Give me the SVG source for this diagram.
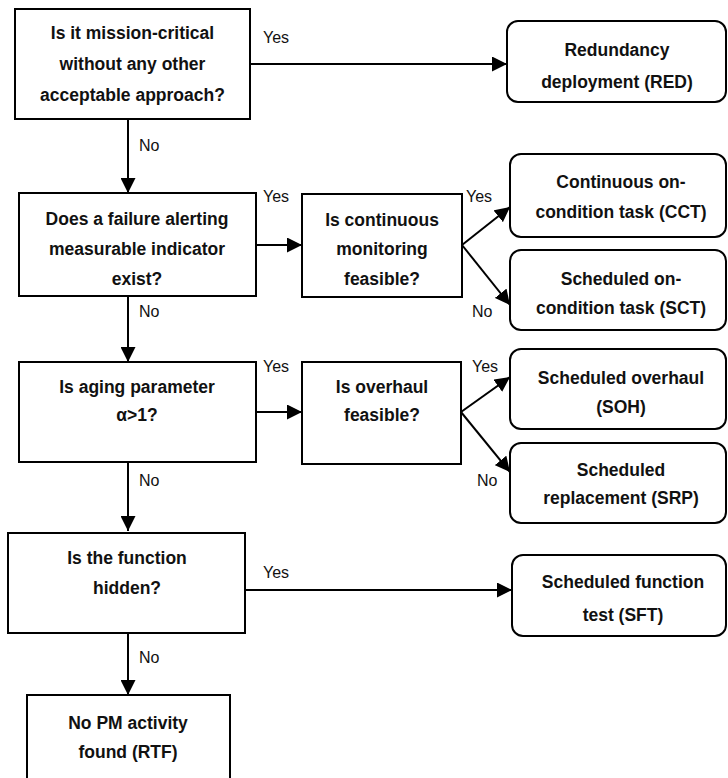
<svg xmlns="http://www.w3.org/2000/svg" width="728" height="778" viewBox="0 0 728 778">
<defs>
<style>
.box{fill:#fff;stroke:#000;stroke-width:2}
.t{font-family:"Liberation Sans",Arial,sans-serif;font-weight:bold;font-size:17.5px;text-anchor:middle;fill:#111}
.l{font-family:"Liberation Sans",Arial,sans-serif;font-size:16px;fill:#111}
.c{stroke:#000;stroke-width:2;fill:none;marker-end:url(#ah)}
</style>
<marker id="ah" markerUnits="userSpaceOnUse" markerWidth="15" markerHeight="15" refX="15" refY="7.5" orient="auto">
<path d="M0,0 L15,7.5 L0,15 z" fill="#000"/>
</marker>
</defs>
<rect width="728" height="778" fill="#fff"/>
<g id="connectors">
<line class="c" x1="128" y1="119" x2="128" y2="193"/>
<line class="c" x1="250" y1="64" x2="507" y2="64"/>
<line class="c" x1="256" y1="245" x2="302" y2="245"/>
<line class="c" x1="462" y1="245" x2="510" y2="207"/>
<line class="c" x1="462" y1="245" x2="510" y2="305"/>
<line class="c" x1="128" y1="296" x2="128" y2="362"/>
<line class="c" x1="256" y1="412" x2="302" y2="412"/>
<line class="c" x1="461" y1="412" x2="510" y2="377"/>
<line class="c" x1="461" y1="412" x2="510" y2="472"/>
<line class="c" x1="128" y1="462" x2="128" y2="531"/>
<line class="c" x1="245" y1="590" x2="512" y2="590"/>
<line class="c" x1="128" y1="633" x2="128" y2="695"/>
<text class="l" x="263" y="43">Yes</text>
<text class="l" x="139" y="151">No</text>
<text class="l" x="263" y="202">Yes</text>
<text class="l" x="466" y="202">Yes</text>
<text class="l" x="472" y="317">No</text>
<text class="l" x="139" y="317">No</text>
<text class="l" x="263" y="372">Yes</text>
<text class="l" x="472" y="372">Yes</text>
<text class="l" x="477" y="486">No</text>
<text class="l" x="139" y="486">No</text>
<text class="l" x="263" y="578">Yes</text>
<text class="l" x="139" y="663">No</text>
</g>
<g id="q1">
<rect class="box" x="15" y="9" width="235" height="110"/>
<text class="t" x="132.5" y="39">Is it mission-critical</text>
<text class="t" x="132.5" y="70">without any other</text>
<text class="t" x="132.5" y="101">acceptable approach?</text>
</g>
<g id="red">
<rect class="box" x="507" y="21" width="219" height="81" rx="11"/>
<text class="t" x="617" y="56">Redundancy</text>
<text class="t" x="617" y="88">deployment (RED)</text>
</g>
<g id="q2">
<rect class="box" x="19" y="193" width="237" height="103"/>
<text class="t" x="137" y="225">Does a failure alerting</text>
<text class="t" x="137" y="255">measurable indicator</text>
<text class="t" x="137" y="285">exist?</text>
</g>
<g id="q3">
<rect class="box" x="302" y="194" width="160" height="103"/>
<text class="t" x="382" y="226">Is continuous</text>
<text class="t" x="382" y="255">monitoring</text>
<text class="t" x="382" y="285">feasible?</text>
</g>
<g id="cct">
<rect class="box" x="510" y="154" width="216" height="83" rx="11"/>
<text class="t" x="621" y="188">Continuous on-</text>
<text class="t" x="621" y="218">condition task (CCT)</text>
</g>
<g id="sct">
<rect class="box" x="510" y="250" width="216" height="80" rx="11"/>
<text class="t" x="621" y="285">Scheduled on-</text>
<text class="t" x="621" y="314">condition task (SCT)</text>
</g>
<g id="q4">
<rect class="box" x="19" y="362" width="237" height="100"/>
<text class="t" x="137" y="393">Is aging parameter</text>
<text class="t" x="137" y="421">α&gt;1?</text>
</g>
<g id="q5">
<rect class="box" x="302" y="362" width="159" height="102"/>
<text class="t" x="382" y="393">Is overhaul</text>
<text class="t" x="382" y="421">feasible?</text>
</g>
<g id="soh">
<rect class="box" x="510" y="349" width="216" height="80" rx="11"/>
<text class="t" x="621" y="384">Scheduled overhaul</text>
<text class="t" x="621" y="413">(SOH)</text>
</g>
<g id="srp">
<rect class="box" x="510" y="443" width="216" height="80" rx="11"/>
<text class="t" x="621" y="476">Scheduled</text>
<text class="t" x="621" y="504">replacement (SRP)</text>
</g>
<g id="q6">
<rect class="box" x="8" y="533" width="237" height="100"/>
<text class="t" x="127" y="564">Is the function</text>
<text class="t" x="127" y="594">hidden?</text>
</g>
<g id="sft">
<rect class="box" x="512" y="555" width="214" height="81" rx="11"/>
<text class="t" x="623" y="588">Scheduled function</text>
<text class="t" x="623" y="621">test (SFT)</text>
</g>
<g id="rtf">
<rect class="box" x="27" y="695" width="203" height="90"/>
<text class="t" x="128" y="729">No PM activity</text>
<text class="t" x="128" y="758">found (RTF)</text>
</g>
</svg>
